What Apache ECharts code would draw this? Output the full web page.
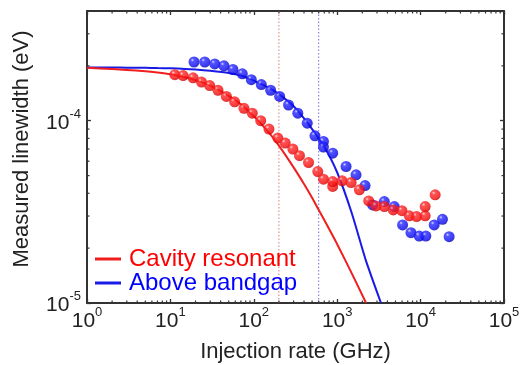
<!DOCTYPE html>
<html>
<head>
<meta charset="utf-8">
<script src="https://cdn.jsdelivr.net/npm/echarts@6/dist/echarts.min.js"></script>
<style>
html,body{margin:0;padding:0;background:#fff;}
#chart{width:523px;height:365px;}
</style>
</head>
<body>
<div id="chart"></div>
<script>
// ---- data ----
const redX = [11.3, 14.2, 18.7, 23.6, 29.6, 37.2, 46.9, 58.9, 76.2, 95.9, 121, 152, 194, 238, 294, 353, 453, 585, 684, 883, 883, 1145, 1467, 1844, 2384, 2920, 3670, 4700, 5970, 7310, 8940, 11350, 11350, 14950];
const redY = [1.79e-4, 1.77e-4, 1.72e-4, 1.63e-4, 1.56e-4, 1.47e-4, 1.36e-4, 1.27e-4, 1.17e-4, 1.10e-4, 1.00e-4, 9.0e-5, 8.03e-5, 7.54e-5, 6.99e-5, 6.43e-5, 5.90e-5, 5.26e-5, 4.78e-5, 4.36e-5, 4.64e-5, 4.68e-5, 4.58e-5, 4.18e-5, 3.63e-5, 3.41e-5, 3.38e-5, 3.24e-5, 3.21e-5, 3.01e-5, 2.98e-5, 3.01e-5, 3.38e-5, 3.92e-5];
const blueX = [19.2, 25.8, 34.0, 43.9, 56.2, 72.8, 93.3, 123, 159, 204, 261, 337, 437, 541, 684, 684, 883, 1277, 1682, 2157, 2660, 3670, 4833, 6080, 7657, 9620, 11560, 14550, 18290, 21980];
const blueY = [2.10e-4, 2.10e-4, 2.05e-4, 2.00e-4, 1.91e-4, 1.81e-4, 1.68e-4, 1.58e-4, 1.47e-4, 1.36e-4, 1.22e-4, 1.10e-4, 9.7e-5, 8.27e-5, 7.7e-5, 7.17e-5, 6.64e-5, 5.61e-5, 5.05e-5, 4.41e-5, 3.45e-5, 3.60e-5, 3.38e-5, 2.68e-5, 2.43e-5, 2.33e-5, 2.33e-5, 2.68e-5, 2.88e-5, 2.31e-5];
const redFitX = [1, 2, 3, 5, 7, 10, 15, 20, 30, 50, 70, 100, 150, 200, 300, 400, 500, 700, 1000, 1500, 2220];
const redFitY = [1.95e-4, 1.92e-4, 1.90e-4, 1.87e-4, 1.84e-4, 1.80e-4, 1.73e-4, 1.67e-4, 1.56e-4, 1.37e-4, 1.23e-4, 1.06e-4, 8.65e-5, 7.3e-5, 5.55e-5, 4.5e-5, 3.78e-5, 2.85e-5, 2.1e-5, 1.45e-5, 1.0e-5];
const blueFitX = [1, 2, 3, 5, 7, 10, 15, 20, 30, 50, 70, 100, 150, 200, 300, 400, 500, 700, 1000, 1500, 2200, 3350];
const blueFitY = [1.96e-4, 1.96e-4, 1.955e-4, 1.95e-4, 1.945e-4, 1.94e-4, 1.925e-4, 1.91e-4, 1.88e-4, 1.83e-4, 1.77e-4, 1.66e-4, 1.52e-4, 1.40e-4, 1.20e-4, 1.03e-4, 9.0e-5, 7.2e-5, 5.2e-5, 3.1e-5, 1.72e-5, 1.0e-5];
const redMarkX = 200;
const blueMarkX = 600;
const seriesNames = ['Cavity resonant', 'Above bandgap'];
const xTitle = 'Injection rate (GHz)';
const yTitle = 'Measured linewidth (eV)';
const xRange = [1, 1e5];
const yRange = [1e-5, 4e-4];
const minorMult = [2, 3, 4, 5, 6, 7, 8, 9];
const xDecades = [1, 10, 100, 1000, 10000];
const yDecades = [1e-5, 1e-4];

// ---- build ----
const zip = (a, b) => a.map((v, i) => [v, b[i]]);
const xMinor = [];
xDecades.forEach(d => minorMult.forEach(m => xMinor.push([d * m, 1e-4])));
const yMinor = [];
yDecades.forEach(d => minorMult.forEach(m => { if (d * m < yRange[1]) yMinor.push([10, d * m]); }));

const FONT = "'Liberation Sans', Arial, sans-serif";
const AX = '#333';

function supFmt(v) {
  const l = Math.log10(v);
  const r = Math.round(l);
  if (Math.abs(l - r) > 1e-6) return '';
  return '{b|10}{s|' + r + '}';
}
const labelRich = {
  b: { fontSize: 21, fontFamily: FONT, color: '#222', lineHeight: 26, verticalAlign: 'bottom' },
  s: { fontSize: 13, fontFamily: FONT, color: '#222', lineHeight: 13, verticalAlign: 'top' }
};

function ball(c0, c1, c2, c3) {
  return {
    type: 'radial', x: 0.36, y: 0.32, r: 0.72,
    colorStops: [
      { offset: 0, color: c0 },
      { offset: 0.22, color: c1 },
      { offset: 0.75, color: c2 },
      { offset: 1, color: c3 }
    ]
  };
}

const chart = echarts.init(document.getElementById('chart'), null, { renderer: 'canvas' });

const baseX = {
  type: 'log', logBase: 10, min: xRange[0], max: xRange[1],
  splitLine: { show: false },
  axisLine: { show: true, lineStyle: { color: AX, width: 2 } },
  axisTick: { show: true, inside: true, length: 4, lineStyle: { color: AX, width: 1.3 } }
};
const baseY = {
  type: 'log', logBase: 10, min: yRange[0], max: yRange[1],
  splitLine: { show: false },
  axisLine: { show: true, lineStyle: { color: AX, width: 2 } },
  axisTick: { show: true, inside: true, length: 4, lineStyle: { color: AX, width: 1.3 } }
};

chart.setOption({
  animation: false,
  backgroundColor: '#fff',
  grid: { left: 87, right: 19, top: 11, bottom: 62, containLabel: false, outerBoundsMode: 'none' },
  legend: {
    orient: 'vertical', left: 95, top: 247, padding: 0, itemGap: 0,
    itemWidth: 26, itemHeight: 3, icon: 'rect', selectedMode: false,
    textStyle: { fontSize: 24, fontFamily: FONT, lineHeight: 24, padding: [0, 0, 0, 3] },
    data: [
      { name: seriesNames[0], textStyle: { color: '#ff0000' } },
      { name: seriesNames[1], textStyle: { color: '#0000ff' } }
    ]
  },
  xAxis: [
    Object.assign({}, baseX, {
      position: 'bottom',
      axisLabel: { show: true, formatter: supFmt, rich: labelRich, margin: 3 },
      name: xTitle, nameLocation: 'middle', nameGap: 38,
      nameTextStyle: { fontSize: 22, fontFamily: FONT, color: '#222' }
    }),
    Object.assign({}, baseX, { position: 'top', axisLabel: { show: false } })
  ],
  yAxis: [
    Object.assign({}, baseY, {
      position: 'left',
      axisLabel: { show: true, formatter: supFmt, rich: labelRich, margin: 6, showMaxLabel: false },
      name: yTitle, nameLocation: 'middle', nameGap: 54,
      nameTextStyle: { fontSize: 22, fontFamily: FONT, color: '#222', padding: [0, 0, 0, 16] }
    }),
    Object.assign({}, baseY, { position: 'right', axisLabel: { show: false } })
  ],
  series: [
    {
      type: 'line', name: 'redMark', silent: true, symbol: 'none', z: 1,
      data: [[redMarkX, yRange[0]], [redMarkX, yRange[1]]],
      lineStyle: { color: '#e07878', width: 1, type: [1.5, 2] }
    },
    {
      type: 'line', name: 'blueMark', silent: true, symbol: 'none', z: 1,
      data: [[blueMarkX, yRange[0]], [blueMarkX, yRange[1]]],
      lineStyle: { color: '#7070e0', width: 1, type: [1.5, 2] }
    },
    {
      type: 'line', name: seriesNames[1], silent: true, symbol: 'none', z: 2,
      smooth: 0.2,
      data: zip(blueFitX, blueFitY),
      itemStyle: { color: '#1a1ae6' },
      lineStyle: { color: '#1a1ae6', width: 2 }
    },
    {
      type: 'line', name: seriesNames[0], silent: true, symbol: 'none', z: 2,
      smooth: 0.2,
      data: zip(redFitX, redFitY),
      itemStyle: { color: '#f01e1e' },
      lineStyle: { color: '#f01e1e', width: 2 }
    },
    {
      type: 'scatter', name: 'blueData', silent: true, z: 3, symbolSize: 11,
      data: zip(blueX, blueY),
      itemStyle: { color: ball('#d0d0ff', '#2a2aff', '#0a0af0', '#0000a8') }
    },
    {
      type: 'scatter', name: 'redData', silent: true, z: 4, symbolSize: 11,
      data: zip(redX, redY),
      itemStyle: { color: ball('#ffd0d0', '#ff2a2a', '#f40a0a', '#b80000') }
    },
    {
      type: 'custom', name: 'xMinor', silent: true, z: 5, clip: false,
      data: xMinor,
      renderItem: function (params, api) {
        const x = api.coord([api.value(0), 1e-4])[0];
        const cs = params.coordSys;
        const st = { stroke: AX, lineWidth: 1.2 };
        return { type: 'group', children: [
          { type: 'line', shape: { x1: x, y1: cs.y + cs.height, x2: x, y2: cs.y + cs.height - 2.5 }, style: st },
          { type: 'line', shape: { x1: x, y1: cs.y, x2: x, y2: cs.y + 2.5 }, style: st }
        ] };
      }
    },
    {
      type: 'custom', name: 'yMinor', silent: true, z: 5, clip: false,
      data: yMinor,
      renderItem: function (params, api) {
        const y = api.coord([10, api.value(1)])[1];
        const cs = params.coordSys;
        const st = { stroke: AX, lineWidth: 1.2 };
        return { type: 'group', children: [
          { type: 'line', shape: { x1: cs.x, y1: y, x2: cs.x + 2.5, y2: y }, style: st },
          { type: 'line', shape: { x1: cs.x + cs.width, y1: y, x2: cs.x + cs.width - 2.5, y2: y }, style: st }
        ] };
      }
    }
  ]
});
</script>
</body>
</html>
